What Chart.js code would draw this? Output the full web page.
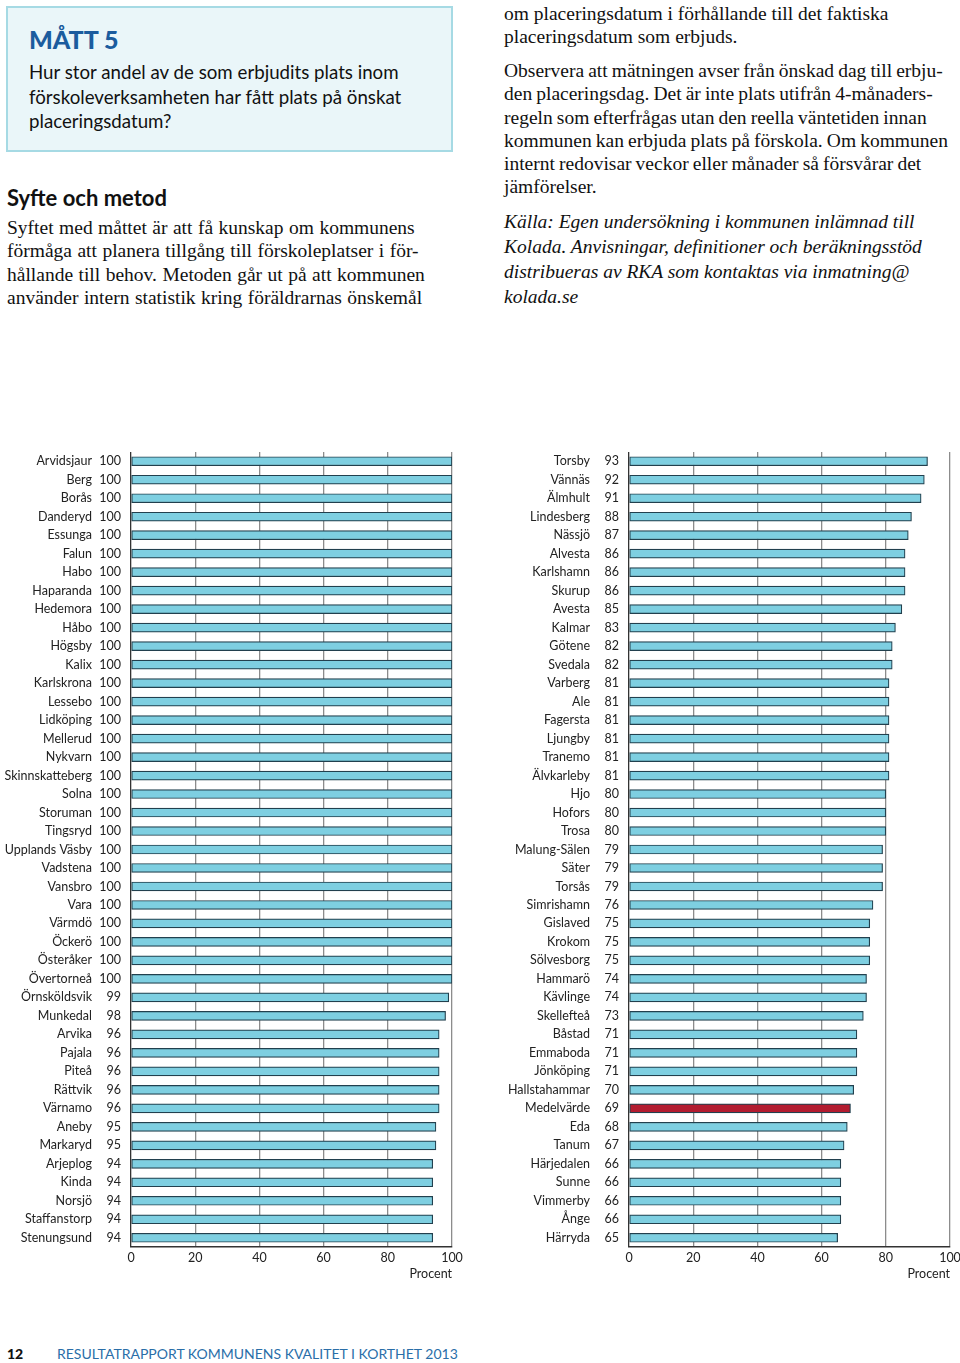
<!DOCTYPE html>
<html>
<head>
<meta charset="utf-8">
<script src="https://cdn.jsdelivr.net/npm/chart.js@4.4.0/dist/chart.umd.min.js"></script>
<style>
  html, body { margin: 0; padding: 0; background: #fff; }
  #page { position: relative; width: 960px; height: 1363px; overflow: hidden; }
  .abs { position: absolute; }
  .sans { font-family: Lato, "Noto Sans", sans-serif; color: #111; }
  .serif { font-family: "Liberation Serif", "DejaVu Serif", serif; color: #111; }
  #box { left: 6px; top: 6px; width: 443px; height: 142px; background: #eaf6f9; border: 2px solid #a6dae4; }
  #title { left: 29px; top: 24px; font-size: 25px; font-weight: 900; color: #1b5c9e; line-height: 30px; }
  #question { left: 29px; top: 60px; font-size: 18.7px; line-height: 24.5px; }
  #syfte { left: 7px; top: 184px; font-size: 22px; font-weight: 700; line-height: 28px; }
  #body1 { left: 7px; top: 216px; font-size: 19.5px; line-height: 23.3px; word-spacing: 0.6px; }
  #body2 { left: 504px; top: 2px; font-size: 19.5px; line-height: 23.3px; }
  #body3 { left: 504px; top: 59px; font-size: 19.5px; line-height: 23.3px; word-spacing: -0.8px; }
  #body4 { left: 504px; top: 209px; font-size: 19.5px; line-height: 25px; font-style: italic; }
  #pagenum { left: 7px; top: 1345px; font-size: 14px; font-weight: 900; line-height: 18px; }
  #footer { left: 57px; top: 1345px; font-size: 14px; line-height: 18px; color: #2a6ea8; }
  .wrap { position: absolute; width: 480px; height: 850px; top: 440px; }
</style>
</head>
<body>
<div id="page">
  <div id="box" class="abs"></div>
  <div id="title" class="abs sans">MÅTT 5</div>
  <div id="question" class="abs sans">Hur stor andel av de som erbjudits plats inom<br>förskoleverksamheten har fått plats på önskat<br>placeringsdatum?</div>
  <div id="syfte" class="abs sans">Syfte och metod</div>
  <div id="body1" class="abs serif">Syftet med måttet är att få kunskap om kommunens<br>förmåga att planera tillgång till förskoleplatser i för-<br>hållande till behov. Metoden går ut på att kommunen<br>använder intern statistik kring föräldrarnas önskemål</div>
  <div id="body2" class="abs serif">om placeringsdatum i förhållande till det faktiska<br>placeringsdatum som erbjuds.</div>
  <div id="body3" class="abs serif">Observera att mätningen avser från önskad dag till erbju-<br>den placeringsdag. Det är inte plats utifrån 4-månaders-<br>regeln som efterfrågas utan den reella väntetiden innan<br>kommunen kan erbjuda plats på förskola. Om kommunen<br>internt redovisar veckor eller månader så försvårar det<br>jämförelser.</div>
  <div id="body4" class="abs serif">Källa: Egen undersökning i kommunen inlämnad till<br>Kolada. Anvisningar, definitioner och beräkningsstöd<br>distribueras av RKA som kontaktas via inmatning@<br>kolada.se</div>

  <div class="wrap" style="left:0px"><canvas id="chartLeft"></canvas></div>
  <div class="wrap" style="left:480px"><canvas id="chartRight"></canvas></div>

  <div id="pagenum" class="abs sans">12</div>
  <div id="footer" class="abs sans">RESULTATRAPPORT KOMMUNENS KVALITET I KORTHET 2013</div>
</div>

<script>
// Kommuner och andel (procent) som fått plats på önskat datum
const leftNames = ['Arvidsjaur', 'Berg', 'Borås', 'Danderyd', 'Essunga', 'Falun', 'Habo', 'Haparanda',
  'Hedemora', 'Håbo', 'Högsby', 'Kalix', 'Karlskrona', 'Lessebo', 'Lidköping', 'Mellerud', 'Nykvarn',
  'Skinnskatteberg', 'Solna', 'Storuman', 'Tingsryd', 'Upplands Väsby', 'Vadstena', 'Vansbro', 'Vara',
  'Värmdö', 'Öckerö', 'Österåker', 'Övertorneå', 'Örnsköldsvik', 'Munkedal', 'Arvika', 'Pajala', 'Piteå',
  'Rättvik', 'Värnamo', 'Aneby', 'Markaryd', 'Arjeplog', 'Kinda', 'Norsjö', 'Staffanstorp', 'Stenungsund'];
const leftValues = [100, 100, 100, 100, 100, 100, 100, 100, 100, 100, 100, 100, 100, 100, 100, 100, 100,
  100, 100, 100, 100, 100, 100, 100, 100, 100, 100, 100, 100, 99, 98, 96, 96, 96, 96, 96, 95, 95, 94, 94,
  94, 94, 94];

const rightNames = ['Torsby', 'Vännäs', 'Älmhult', 'Lindesberg', 'Nässjö', 'Alvesta', 'Karlshamn', 'Skurup',
  'Avesta', 'Kalmar', 'Götene', 'Svedala', 'Varberg', 'Ale', 'Fagersta', 'Ljungby', 'Tranemo', 'Älvkarleby',
  'Hjo', 'Hofors', 'Trosa', 'Malung-Sälen', 'Säter', 'Torsås', 'Simrishamn', 'Gislaved', 'Krokom',
  'Sölvesborg', 'Hammarö', 'Kävlinge', 'Skellefteå', 'Båstad', 'Emmaboda', 'Jönköping', 'Hallstahammar',
  'Medelvärde', 'Eda', 'Tanum', 'Härjedalen', 'Sunne', 'Vimmerby', 'Ånge', 'Härryda'];
const rightValues = [93, 92, 91, 88, 87, 86, 86, 86, 85, 83, 82, 82, 81, 81, 81, 81, 81, 81, 80, 80, 80,
  79, 79, 79, 76, 75, 75, 75, 74, 74, 73, 71, 71, 71, 70, 69, 68, 67, 66, 66, 66, 66, 65];

const highlight = 'Medelvärde';
const xMin = 0;
const xMax = 100;
const xStep = 20;
const xTitle = 'Procent';

const barBlue = '#7ecfe1';
const barRed = '#b31c30';
const barEdge = '#22404e';
const axisDark = '#333333';
const gridGray = '#8c8c8c';
const tickFont = { family: 'Lato, "Noto Sans", sans-serif', size: 12.5 };

function makeChart(id, names, values, nameWidth, padRight) {
  return new Chart(document.getElementById(id), {
    type: 'bar',
    data: {
      labels: names,
      datasets: [{
        data: values,
        backgroundColor: names.map(n => n === highlight ? barRed : barBlue),
        borderColor: barEdge,
        borderWidth: 1.2,
        borderSkipped: false,
        barThickness: 9
      }]
    },
    options: {
      indexAxis: 'y',
      responsive: true,
      maintainAspectRatio: false,
      animation: false,
      layout: { padding: { top: 12, right: padRight, bottom: 3, left: 0 } },
      plugins: { legend: { display: false }, tooltip: { enabled: false } },
      scales: {
        x: {
          type: 'linear',
          position: 'bottom',
          min: xMin,
          max: xMax,
          ticks: { stepSize: xStep, color: '#222', font: tickFont, padding: 3 },
          grid: {
            color: ctx => (ctx.tick && ctx.tick.value === 0) ? axisDark : gridGray,
            lineWidth: 1.3,
            drawTicks: false
          },
          border: { color: axisDark, width: 1.6 },
          title: { display: true, text: xTitle, align: 'end', color: '#222', font: tickFont, padding: { top: 2, bottom: 6 } },
          afterFit: s => { s.height = 40; s.paddingLeft = 0; s.paddingRight = 0; }
        },
        y: {
          type: 'category',
          position: 'left',
          weight: 2,
          offset: true,
          grid: { display: false, drawTicks: false },
          border: { display: false },
          ticks: { autoSkip: false, padding: 0, color: '#222', font: tickFont },
          afterFit: s => { s.width = nameWidth; s.paddingTop = 0; s.paddingBottom = 0; }
        },
        yv: {
          type: 'category',
          labels: values.map(String),
          position: 'left',
          weight: 1,
          offset: true,
          grid: { display: false, drawTicks: false },
          border: { display: false },
          ticks: { autoSkip: false, padding: 10, color: '#222', font: tickFont },
          afterFit: s => { s.width = 39; s.paddingTop = 0; s.paddingBottom = 0; }
        }
      }
    }
  });
}

makeChart('chartLeft', leftNames, leftValues, 92, 28);
makeChart('chartRight', rightNames, rightValues, 110, 10);
</script>
</body>
</html>
